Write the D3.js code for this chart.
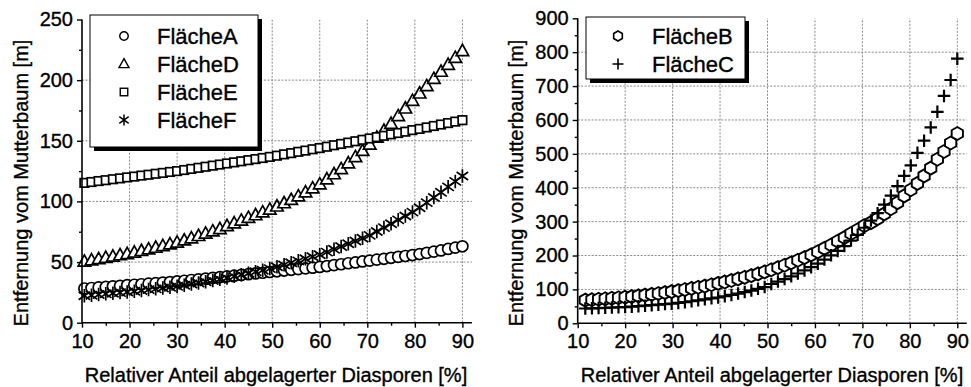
<!DOCTYPE html>
<html><head><meta charset="utf-8">
<script src="https://cdn.jsdelivr.net/npm/d3@7"></script>
<style>html,body{margin:0;padding:0;background:#fff}</style>
</head><body><svg id="c" width="971" height="387"></svg>
<script>
// ---------------- data ----------------
const xTicks = [10, 20, 30, 40, 50, 60, 70, 80, 90];
const yTicksLeft = [0, 50, 100, 150, 200, 250];
const yTicksRight = [0, 100, 200, 300, 400, 500, 600, 700, 800, 900];
const xAxisTitle = "Relativer Anteil abgelagerter Diasporen [%]";
const yAxisTitle = "Entfernung vom Mutterbaum [m]";

const xLeft = [10.5, 12, 13.5, 15, 16.5, 18, 19.5, 21, 22.5, 24, 25.5, 27, 28.5, 30, 31.5, 33, 34.5, 36, 37.5, 39,
  40.5, 42, 43.5, 45, 46.5, 48, 49.5, 51, 52.5, 54, 55.5, 57, 58.5, 60, 61.5, 63, 64.5, 66, 67.5, 69,
  70.5, 72, 73.5, 75, 76.5, 78, 79.5, 81, 82.5, 84, 85.5, 87, 88.5, 90];
const flaecheA = [28.2, 28.6, 29.1, 29.5, 30.0, 30.4, 30.9, 31.3, 31.7, 32.2, 32.6, 33.1, 33.5, 34.0, 34.6, 35.2, 35.8, 36.4, 37.0, 37.6,
  38.2, 38.8, 39.4, 40.0, 40.6, 41.2, 41.8, 42.4, 43.0, 43.6, 44.2, 44.8, 45.4, 46.0, 46.7, 47.5, 48.2, 49.0, 49.7, 50.5,
  51.2, 52.0, 52.7, 53.5, 54.3, 55.0, 55.8, 56.6, 57.6, 58.6, 59.6, 60.8, 61.9, 63.0];
const flaecheD = [50.3, 51.4, 52.4, 53.5, 54.5, 55.6, 56.6, 57.8, 59.1, 60.4, 61.8, 63.2, 64.6, 66.0, 67.8, 69.6, 71.5, 73.4, 75.3, 77.2,
  79.7, 81.9, 84.1, 86.4, 88.6, 90.9, 93.2, 95.8, 98.5, 101.2, 104.1, 107.4, 110.7, 114.0, 118.2, 122.4, 126.6, 131.4, 136.5, 141.6,
  146.9, 152.6, 158.3, 164.0, 170.3, 176.6, 182.9, 189.0, 195.0, 201.0, 206.9, 212.6, 218.3, 224.0];
const flaecheE = [115.3, 116.0, 116.8, 117.5, 118.3, 119.0, 119.8, 120.5, 121.3, 122.0, 122.8, 123.5, 124.3, 125.0, 125.9, 126.8, 127.7, 128.6, 129.5, 130.4,
  131.3, 132.2, 133.1, 134.0, 134.9, 135.8, 136.7, 137.7, 138.8, 139.8, 140.9, 141.9, 143.0, 144.0, 145.1, 146.3, 147.4, 148.5, 149.6, 150.8,
  151.9, 153.0, 154.1, 155.3, 156.4, 157.5, 158.8, 159.8, 161.0, 162.2, 163.4, 164.6, 165.8, 167.0];
const flaecheF = [22.2, 22.7, 23.2, 23.8, 24.3, 24.8, 25.3, 25.9, 26.6, 27.3, 27.9, 28.6, 29.3, 30.0, 30.9, 31.9, 32.8, 33.8, 34.8, 35.8,
  36.9, 38.2, 39.5, 40.8, 42.0, 43.3, 44.6, 46.1, 47.7, 49.4, 51.0, 52.7, 54.4, 56.0, 58.2, 60.5, 62.8, 65.1, 67.4, 69.6,
  72.0, 75.2, 78.4, 81.6, 84.8, 88.0, 91.2, 94.8, 99.0, 103.2, 107.5, 112.0, 116.5, 121.0];

const xRight = [11.6, 13.0, 14.4, 15.8, 17.2, 18.6, 20.0, 21.4, 22.8, 24.2, 25.6, 27.0, 28.4, 29.8, 31.2, 32.6, 34.0, 35.4, 36.8, 38.2,
  39.6, 41.0, 42.4, 43.8, 45.2, 46.6, 48.0, 49.4, 50.8, 52.2, 53.6, 55.0, 56.4, 57.8, 59.2, 60.6, 62.0, 63.4, 64.8, 66.2,
  67.6, 69.0, 70.4, 71.8, 73.2, 74.6, 76.0, 77.4, 78.8, 80.2, 81.6, 83.0, 84.4, 85.8, 87.2, 88.6, 90.0];
const flaecheB = [68.4, 69.6, 70.9, 72.3, 73.8, 75.4, 77.0, 78.9, 81.0, 83.2, 85.5, 88.0, 90.7, 93.6, 96.5, 99.6, 102.9, 106.3, 109.9, 113.7,
  117.8, 122.0, 126.4, 131.0, 135.8, 140.8, 146.0, 151.8, 158.0, 164.5, 171.3, 178.5, 186.0, 194.0, 202.0, 211.0, 221.0, 231.0, 242.0, 253.0,
  265.0, 276.0, 288.0, 297.0, 309.0, 323.0, 338.0, 356.0, 376.0, 394.0, 413.0, 435.0, 458.0, 484.0, 507.0, 532.0, 560.0];
const flaecheC = [43.6, 44.3, 45.0, 45.8, 46.5, 47.3, 48.0, 49.2, 50.5, 51.9, 53.4, 55.0, 56.6, 57.8, 60.0, 62.4, 65.0, 67.8, 70.7, 73.8,
  76.2, 79.8, 83.6, 87.7, 92.0, 96.7, 101.7, 107.0, 116.0, 123.0, 130.5, 138.5, 147.0, 156.0, 165.5, 176.0, 188.0, 200.5, 213.5, 228.0,
  244.0, 261.0, 282.0, 303.0, 325.0, 350.0, 377.0, 405.0, 435.0, 466.0, 503.0, 539.0, 578.0, 624.0, 671.0, 718.0, 781.0];

// ---------------- drawing ----------------
const FONT = "'Liberation Sans', Arial, Helvetica, sans-serif";
const TEXT_STROKE = 0.35;
const svg = d3.select("#c");
svg.append("rect").attr("width", 971).attr("height", 387).attr("fill", "#fff");

function marker(g, shape, s, sw) {
  if (shape === "circle") {
    g.append("circle").attr("r", s / 2).attr("fill", "#fff").attr("stroke", "#000").attr("stroke-width", sw);
  } else if (shape === "triangle") {
    const h = s * 0.9;
    g.append("path").attr("d", `M0,${-h * 0.6}L${s / 2},${h * 0.4}L${-s / 2},${h * 0.4}Z`)
      .attr("fill", "#fff").attr("stroke", "#000").attr("stroke-width", sw).attr("stroke-linejoin", "miter");
  } else if (shape === "square") {
    g.append("rect").attr("x", -s / 2).attr("y", -s / 2).attr("width", s).attr("height", s)
      .attr("fill", "#fff").attr("stroke", "#000").attr("stroke-width", sw);
  } else if (shape === "star") {
    const r = s / 2, a = r * 0.85;
    g.append("path").attr("d", `M0,${-r}V${r}M${-a},${-a * 0.7}L${a},${a * 0.7}M${-a},${a * 0.7}L${a},${-a * 0.7}`)
      .attr("fill", "none").attr("stroke", "#000").attr("stroke-width", sw);
  } else if (shape === "hexagon") {
    const r = s / 2;
    const pts = d3.range(6).map(i => {
      const ang = (-90 + 60 * i) * Math.PI / 180;
      return [r * Math.cos(ang), r * Math.sin(ang)];
    });
    g.append("path").attr("d", "M" + pts.map(p => p.join(",")).join("L") + "Z")
      .attr("fill", "#fff").attr("stroke", "#000").attr("stroke-width", sw);
  } else if (shape === "plus") {
    const r = s / 2;
    g.append("path").attr("d", `M0,${-r}V${r}M${-r},0H${r}`)
      .attr("fill", "none").attr("stroke", "#000").attr("stroke-width", sw);
  }
}

function styleText(sel, size) {
  sel.attr("font-family", FONT).attr("font-size", size).attr("fill", "#000")
    .attr("stroke", "#000").attr("stroke-width", TEXT_STROKE);
}

function panel(cfg) {
  const x = d3.scaleLinear().domain([10, 92]).range([cfg.x0, cfg.x0 + 82 * cfg.pxPerUnit]);
  const y = d3.scaleLinear().domain([0, cfg.yMax]).range([cfg.yBottom, cfg.yTop]);
  const g = svg.append("g");

  // grid
  const grid = g.append("g").attr("stroke", "#8a8a8a").attr("stroke-width", 1).attr("stroke-dasharray", "2,1.5");
  xTicks.filter(t => t > 10).forEach(t => {
    grid.append("line").attr("x1", x(t)).attr("x2", x(t)).attr("y1", y(0)).attr("y2", y(cfg.yMax));
  });
  cfg.yTicks.filter(t => t > 0 && t < cfg.yMax).forEach(t => {
    grid.append("line").attr("x1", x(10)).attr("x2", x(92)).attr("y1", y(t)).attr("y2", y(t));
  });

  // series
  cfg.series.forEach(s => {
    const sg = g.append("g");
    cfg.xs.forEach((xv, i) => {
      const m = sg.append("g").attr("transform", `translate(${x(xv)},${y(s.values[i])})`);
      marker(m, s.shape, s.size, s.sw);
    });
  });

  // axes
  const xMinor = d3.range(15, 90, 10);
  const xa = g.append("g").attr("transform", `translate(0,${y(0)})`)
    .call(d3.axisBottom(x).tickValues(xTicks).tickSize(5).tickPadding(6).tickFormat(d3.format("d")));
  g.append("g").attr("transform", `translate(0,${y(0)})`)
    .call(d3.axisBottom(x).tickValues(xMinor).tickSize(3).tickFormat("")).select(".domain").remove();
  const ya = g.append("g").attr("transform", `translate(${x(10)},0)`)
    .call(d3.axisLeft(y).tickValues(cfg.yTicks).tickSize(5).tickPadding(4).tickFormat(d3.format("d")));
  g.append("g").attr("transform", `translate(${x(10)},0)`)
    .call(d3.axisLeft(y).tickValues(cfg.yMinor).tickSize(3).tickFormat("")).select(".domain").remove();
  g.selectAll(".domain").attr("stroke-width", 1.6).attr("stroke", "#000");
  g.selectAll(".tick line").attr("stroke-width", 1.4).attr("stroke", "#000");
  styleText(g.selectAll(".tick text"), 20);
  xa.select(".domain").attr("d", `M${x(10)},0H${x(92)}`);
  ya.select(".domain").attr("d", `M0,${y(0)}V${y(cfg.yMax)}`);

  // titles
  styleText(g.append("text").attr("x", cfg.xTitleX).attr("y", 382).attr("text-anchor", "middle")
    .text(xAxisTitle), 20);
  styleText(g.append("text").attr("transform", `translate(${cfg.yTitleX},${cfg.yTitleY}) rotate(-90)`)
    .attr("text-anchor", "middle").text(yAxisTitle), 20);

  // legend
  const L = cfg.legend;
  const lg = g.append("g");
  lg.append("rect").attr("x", L.x + 4).attr("y", L.y + 4).attr("width", L.w).attr("height", L.h).attr("fill", "#000");
  lg.append("rect").attr("x", L.x).attr("y", L.y).attr("width", L.w).attr("height", L.h)
    .attr("fill", "#fff").attr("stroke", "#000").attr("stroke-width", 1);
  cfg.series.forEach((s, i) => {
    const cy = L.rowY0 + i * 28;
    const m = lg.append("g").attr("transform", `translate(${L.symX},${cy})`);
    marker(m, s.shape, s.legendSize, s.legendSw);
    styleText(lg.append("text").attr("x", L.textX).attr("y", cy + 8).text(s.name), 22);
  });
}

panel({
  x0: 82, pxPerUnit: 4.755, yTop: 19.5, yBottom: 322.7, yMax: 250,
  yTicks: yTicksLeft, yMinor: [25, 75, 125, 175, 225],
  xs: xLeft,
  series: [
    { name: "FlächeA", shape: "circle", size: 11, sw: 1.7, legendSize: 8.5, legendSw: 1.4, values: flaecheA },
    { name: "FlächeD", shape: "triangle", size: 12.5, sw: 1.7, legendSize: 10, legendSw: 1.4, values: flaecheD },
    { name: "FlächeE", shape: "square", size: 8.5, sw: 1.7, legendSize: 7.5, legendSw: 1.4, values: flaecheE },
    { name: "FlächeF", shape: "star", size: 13.5, sw: 1.7, legendSize: 11, legendSw: 1.5, values: flaecheF }
  ],
  xTitleX: 276, yTitleX: 28, yTitleY: 183,
  legend: { x: 90, y: 15, w: 168, h: 132, symX: 124, textX: 157, rowY0: 36 }
});

panel({
  x0: 577.7, pxPerUnit: 4.745, yTop: 18.3, yBottom: 323.3, yMax: 900,
  yTicks: yTicksRight, yMinor: [50, 150, 250, 350, 450, 550, 650, 750, 850],
  xs: xRight,
  series: [
    { name: "FlächeB", shape: "hexagon", size: 13, sw: 1.9, legendSize: 10, legendSw: 1.6, values: flaecheB },
    { name: "FlächeC", shape: "plus", size: 12.5, sw: 2.2, legendSize: 11, legendSw: 1.6, values: flaecheC }
  ],
  xTitleX: 772, yTitleX: 523, yTitleY: 183,
  legend: { x: 586, y: 17, w: 159, h: 62, symX: 618, textX: 652, rowY0: 36 }
});
</script>
</body></html>
